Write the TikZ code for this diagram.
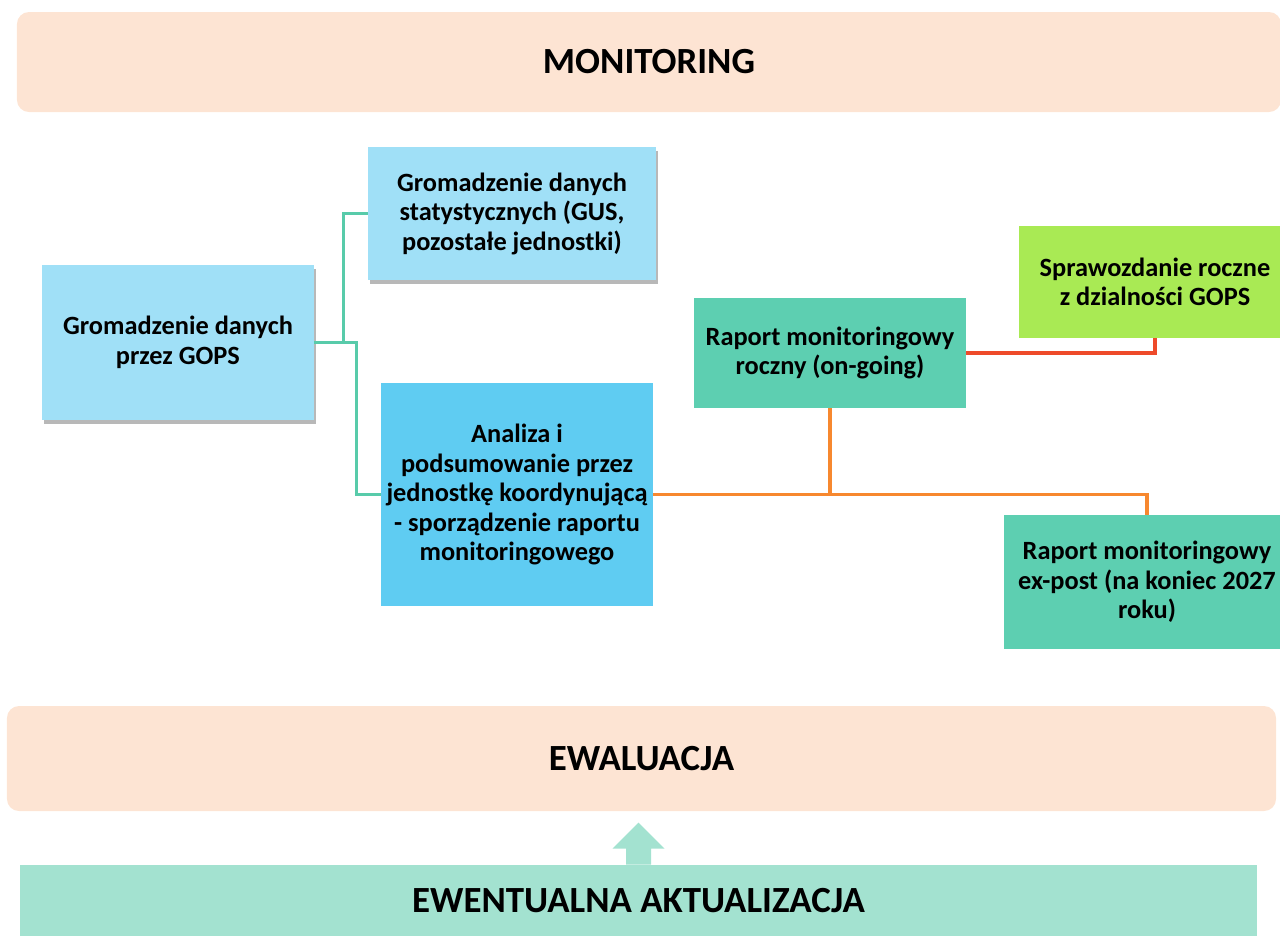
\documentclass[tikz,border=0pt]{standalone}
\usepackage{fontspec}
\setmainfont{Carlito}
\usetikzlibrary{shadows}
\definecolor{peach}{HTML}{FDE4D3}
\definecolor{lightblue}{HTML}{A0E0F7}
\definecolor{midblue}{HTML}{5FCCF2}
\definecolor{seagreen}{HTML}{5DCFB1}
\definecolor{limegreen}{HTML}{A9EA54}
\definecolor{paleteal}{HTML}{A3E2D0}
\definecolor{lineteal}{HTML}{58CBAA}
\definecolor{lineorange}{HTML}{F7882F}
\definecolor{linered}{HTML}{EE4A2A}
\tikzset{
  banner/.style={fill=peach,rounded corners=2.4mm,font=\fontsize{21}{25}\selectfont\bfseries,inner sep=0pt},
  stepbox/.style={align=center,inner sep=0pt,font=\fontsize{15}{16.8}\selectfont\bfseries},
  shade/.style={drop shadow={shadow xshift=1pt,shadow yshift=-2.5pt,opacity=.35,fill=black!80}},
  conn/.style={line width=1.8pt}
}
\begin{document}
\begin{tikzpicture}[x=0.2mm,y=-0.2mm]
\useasboundingbox (0,0) rectangle (1280,936);
\node[banner,minimum width=252.8mm,minimum height=20mm] (mon) at (649,62) {MONITORING};
\node[stepbox,shade,fill=lightblue,minimum width=54.4mm,minimum height=31mm] (gops) at (178,342.5) {Gromadzenie danych\\przez GOPS};
\node[stepbox,shade,fill=lightblue,minimum width=57.6mm,minimum height=26.6mm] (stat) at (512,213.5) {Gromadzenie danych\\statystycznych (GUS,\\pozostałe jednostki)};
\node[stepbox,fill=midblue,minimum width=54.4mm,minimum height=44.6mm] (anal) at (517,494.5) {Analiza i\\podsumowanie przez\\jednostkę koordynującą\\- sporządzenie raportu\\monitoringowego};
\node[stepbox,fill=seagreen,minimum width=54.4mm,minimum height=22mm] (roczny) at (830,353) {Raport monitoringowy\\roczny (on-going)};
\node[stepbox,fill=limegreen,minimum width=54.4mm,minimum height=22.4mm] (spraw) at (1155,282) {Sprawozdanie roczne\\z dzialności GOPS};
\node[stepbox,fill=seagreen,minimum width=57.2mm,minimum height=26.8mm] (expost) at (1147,582) {Raport monitoringowy\\ex-post (na koniec 2027\\roku)};
\node[banner,minimum width=253.8mm,minimum height=21mm] (ewa) at (641.5,758.5) {EWALUACJA};
\node[fill=paleteal,inner sep=0pt,minimum width=247.4mm,minimum height=14.2mm,font=\fontsize{21}{25}\selectfont\bfseries] (akt) at (638.5,900.5) {EWENTUALNA AKTUALIZACJA};
\draw[conn,lineteal] (gops.east) -- ++(29,0) |- (stat.west);
\draw[conn,lineteal] (gops.east) -- ++(42,0) |- (anal.west);
\coordinate (split) at (anal.east -| roczny.south);
\draw[conn,lineorange] (anal.east) -| (roczny.south);
\draw[conn,lineorange] (split) -| (expost.north);
\draw[conn,linered] (roczny.east) -| (spraw.south);
\fill[paleteal] (akt.north) ++(-12.5,0) -- ++(0,-16) -- ++(-13.5,0) -- ++(26,-26) -- ++(26,26) -- ++(-13.5,0) -- ++(0,16) -- cycle;
\end{tikzpicture}
\end{document}
